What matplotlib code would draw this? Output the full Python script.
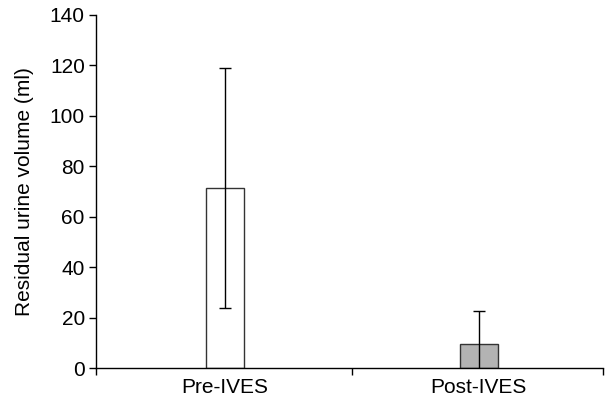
import matplotlib.pyplot as plt
import numpy as np

plt.rcParams['font.family'] = ['Liberation Sans', 'DejaVu Sans']

groups = ['Pre-IVES', 'Post-IVES']
means = [71.5, 9.5]
errors = [47.5, 13.3]
colors = ['white', '#b3b3b3']

fig = plt.figure(figsize=(6.15, 4.05), dpi=100)
ax = fig.add_axes([0.156, 0.091, 0.824, 0.872])

x = np.arange(len(groups))
ax.bar(x, means, width=0.15, color=colors, edgecolor='#333333', linewidth=1.0, zorder=2)
ax.errorbar(x, means, yerr=errors, fmt='none', ecolor='black', elinewidth=1.0,
            capsize=4.5, capthick=1.0, zorder=3)

ax.set_xlim(-0.51, 1.49)
ax.set_ylim(0, 140)
ax.set_yticks(np.arange(0, 141, 20))
ax.set_xticks(x)
ax.set_xticklabels(groups)
ax.set_xticks([-0.51, 0.5, 1.49], minor=True)
ax.tick_params(axis='x', which='major', length=0, pad=7, labelsize=15)
ax.tick_params(axis='x', which='minor', length=5, direction='out', width=1)
ax.tick_params(axis='y', length=5, direction='out', width=1, labelsize=15, pad=3)
ax.set_ylabel('Residual urine volume (ml)', fontsize=15, labelpad=11)

for s in ['top', 'right']:
    ax.spines[s].set_visible(False)
for s in ['left', 'bottom']:
    ax.spines[s].set_linewidth(1.0)

fig.savefig('out.png', dpi=100)
